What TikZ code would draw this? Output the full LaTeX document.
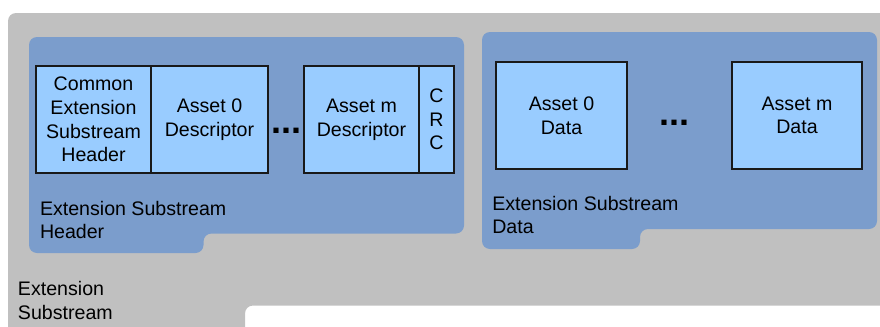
\documentclass[tikz,border=0pt]{standalone}
\usepackage{fontspec}
\setmainfont{Liberation Sans}
\definecolor{streamgray}{RGB}{192,192,192}
\definecolor{panelblue}{RGB}{123,157,204}
\definecolor{boxblue}{RGB}{153,204,255}
\definecolor{boxline}{RGB}{25,25,25}
\tikzset{
  txt/.style={font=\fontsize{9.8pt}{11.8pt}\selectfont, inner sep=0pt, outer sep=0pt},
  panellabel/.style={txt, align=left, anchor=north west},
  fieldbox/.style={txt, draw=boxline, line width=0.6pt, fill=boxblue, align=center, anchor=north west, minimum height=53.5pt},
  ellipsisdots/.style={font=\fontsize{18pt}{20pt}\selectfont\bfseries, inner sep=0pt, outer sep=0pt, anchor=base west},
}
\begin{document}
\begin{tikzpicture}[x=0.5pt,y=-0.5pt]
\useasboundingbox (0,0) rectangle (880,327);
\begin{scope}
\clip (0,0) rectangle (880,327);
% Extension substream (gray)
\fill[streamgray, rounded corners=4pt] (8,13) -- (905,13) -- (905,305.5) -- (245,305.5) -- (245,345) -- (8,345) -- cycle;
\end{scope}
% Header panel
\fill[panelblue, rounded corners=4pt] (29,37) -- (464,37) -- (464,233.5) -- (203.5,233.5) -- (203.5,253) -- (29,253) -- cycle;
% Data panel
\fill[panelblue, rounded corners=4pt] (482,32) -- (877,32) -- (877,229) -- (640,229) -- (640,249) -- (482,249) -- cycle;

% header fields
\node[fieldbox, minimum width=57.5pt] (common) at (36,66) {Common\\Extension\\Substream\\Header};
\node[fieldbox, minimum width=58.5pt] (desc0) at (151,66) {Asset 0\\Descriptor};
\node[ellipsisdots] (hdots) at (271.5,133.3) {...};
\node[fieldbox, minimum width=57.5pt] (descm) at (304,66) {Asset m\\Descriptor};
\node[fieldbox, minimum width=17.5pt] (crc) at (419,66) {C\\R\\C};

% data fields
\node[fieldbox, minimum width=65.5pt] (data0) at (496,62) {Asset 0\\Data};
\node[ellipsisdots] (ddots) at (659.2,125.7) {...};
\node[fieldbox, minimum width=65pt] (datam) at (732,62) {Asset m\\Data};

% labels
\node[panellabel] (hdrlabel) at (40,201) {Extension Substream\\Header};
\node[panellabel] (datalabel) at (492.3,196) {Extension Substream\\Data};
\node[panellabel] (streamlabel) at (18,281.5) {Extension\\Substream};
\end{tikzpicture}
\end{document}
